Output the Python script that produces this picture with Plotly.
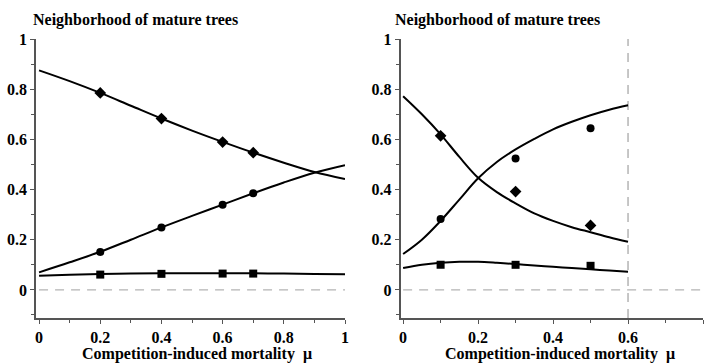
import plotly.graph_objects as go

# ---------- data ----------
# Left panel
left_pts_x = [0.2, 0.4, 0.6, 0.7]
left_diamond = [0.785, 0.683, 0.589, 0.547]
left_circle = [0.151, 0.249, 0.339, 0.385]
left_square = [0.061, 0.064, 0.065, 0.065]

left_curve_x = [0.0, 0.1, 0.2, 0.3, 0.4, 0.5, 0.6, 0.7, 0.8, 0.9, 1.0]
left_curve_diamond = [0.875, 0.832, 0.785, 0.734, 0.683, 0.635, 0.590, 0.547, 0.507, 0.470, 0.442]
left_curve_circle = [0.070, 0.110, 0.152, 0.200, 0.249, 0.295, 0.340, 0.385, 0.428, 0.467, 0.497]
left_curve_square = [0.056, 0.060, 0.063, 0.065, 0.066, 0.066, 0.066, 0.066, 0.065, 0.063, 0.062]

# Right panel
right_pts_x = [0.1, 0.3, 0.5]
right_diamond = [0.614, 0.392, 0.257]
right_circle = [0.283, 0.524, 0.644]
right_square = [0.100, 0.100, 0.096]

right_curve_x = [0.0, 0.05, 0.1, 0.15, 0.2, 0.25, 0.3, 0.35, 0.4, 0.45, 0.5, 0.55, 0.6]
right_curve_diamond = [0.772, 0.700, 0.620, 0.530, 0.447, 0.390, 0.345, 0.305, 0.275, 0.250, 0.230, 0.210, 0.192]
right_curve_circle = [0.143, 0.200, 0.275, 0.360, 0.445, 0.510, 0.560, 0.602, 0.640, 0.670, 0.696, 0.718, 0.736]
right_curve_square = [0.087, 0.100, 0.108, 0.112, 0.112, 0.108, 0.103, 0.097, 0.092, 0.087, 0.082, 0.077, 0.072]

x_tick_vals_left = [0, 0.2, 0.4, 0.6, 0.8, 1]
x_tick_text_left = ["0", "0.2", "0.4", "0.6", "0.8", "1"]
x_tick_vals_right = [0, 0.2, 0.4, 0.6, 0.8]
x_tick_text_right = ["0", "0.2", "0.4", "0.6", "0.8"]
y_tick_vals = [0, 0.2, 0.4, 0.6, 0.8, 1]
y_tick_text = ["0", "0.2", "0.4", "0.6", "0.8", "1"]

panel_title = "Neighborhood of mature trees"
x_title = "Competition-induced mortality  μ"

# ---------- figure ----------
FONT = "Liberation Serif, Times New Roman, serif"
LINE = dict(color="black", width=2, shape="spline", smoothing=1.0)
AXC = "#555555"
GRID = "#b4b4b4"

fig = go.Figure()

def add_panel(xa, ya, cx, cd, cc, cs, px, pd, pc, ps):
    for cy in (cd, cc, cs):
        fig.add_trace(go.Scatter(x=cx, y=cy, mode="lines", line=LINE,
                                 xaxis=xa, yaxis=ya, showlegend=False, hoverinfo="skip"))
    fig.add_trace(go.Scatter(x=px, y=pd, mode="markers",
                             marker=dict(symbol="diamond", size=9, color="black"),
                             xaxis=xa, yaxis=ya, showlegend=False))
    fig.add_trace(go.Scatter(x=px, y=pc, mode="markers",
                             marker=dict(symbol="circle", size=8, color="black"),
                             xaxis=xa, yaxis=ya, showlegend=False))
    fig.add_trace(go.Scatter(x=px, y=ps, mode="markers",
                             marker=dict(symbol="square", size=8, color="black"),
                             xaxis=xa, yaxis=ya, showlegend=False))

add_panel("x", "y", left_curve_x, left_curve_diamond, left_curve_circle, left_curve_square,
          left_pts_x, left_diamond, left_circle, left_square)
add_panel("x2", "y2", right_curve_x, right_curve_diamond, right_curve_circle, right_curve_square,
          right_pts_x, right_diamond, right_circle, right_square)

W, H = 712, 364
ybot, ytop = 318, 39
ydom = [1 - ybot / H, 1 - ytop / H]

tickfont = dict(family=FONT, size=16, color="black", weight="bold")

def bold(lst):
    return ["<b>%s</b>" % t for t in lst]

def xaxis_cfg(domain, rng, vals, text):
    return dict(domain=domain, range=rng, tickmode="array", tickvals=vals, ticktext=bold(text),
                showgrid=False, zeroline=False, showline=True, linecolor=AXC, linewidth=1.5,
                ticks="outside", ticklen=4, tickwidth=1.2, tickcolor=AXC, automargin=False,
                minor=dict(dtick=0.1, tick0=0, ticks="outside", ticklen=3, tickcolor=AXC, tickwidth=1.2),
                tickfont=tickfont, fixedrange=True)

def yaxis_cfg(anchor):
    return dict(domain=ydom, range=[-0.112, 1.0], anchor=anchor, tickmode="array",
                tickvals=y_tick_vals, ticktext=bold(y_tick_text), automargin=False,
                showgrid=False, zeroline=False, showline=True, linecolor=AXC, linewidth=1.5,
                ticks="outside", ticklen=4, tickwidth=1.2, tickcolor=AXC,
                minor=dict(dtick=0.1, tick0=0, ticks="outside", ticklen=3, tickcolor=AXC, tickwidth=1.2),
                tickfont=tickfont, fixedrange=True)

fig.update_layout(
    width=W, height=H,
    margin=dict(l=0, r=0, t=0, b=0, autoexpand=False),
    paper_bgcolor="white", plot_bgcolor="white",
    xaxis=dict(**xaxis_cfg([36 / W, 345 / W], [-0.01, 1.0], x_tick_vals_left, x_tick_text_left), anchor="y"),
    yaxis=yaxis_cfg("x"),
    xaxis2=dict(**xaxis_cfg([400.5 / W, 703 / W], [-0.007, 0.8], x_tick_vals_right, x_tick_text_right), anchor="y2"),
    yaxis2=yaxis_cfg("x2"),
)

dash = "9px,7px"
fig.add_shape(type="line", xref="x", yref="y", x0=0, x1=1, y0=0, y1=0,
              line=dict(color=GRID, width=1.3, dash=dash), layer="below")
fig.add_shape(type="line", xref="x2", yref="y2", x0=0, x1=0.8, y0=0, y1=0,
              line=dict(color=GRID, width=1.3, dash=dash), layer="below")
fig.add_shape(type="line", xref="x2", yref="y2", x0=0.6, x1=0.6, y0=-0.112, y1=1.0,
              line=dict(color=GRID, width=1.5, dash=dash), layer="below")

titlefont = dict(family=FONT, size=16, color="black", weight="bold")
for xp in (31, 393):
    fig.add_annotation(text="<b>%s</b>" % panel_title, xref="paper", yref="paper", x=xp / W, y=1 - 20 / H,
                       xanchor="left", yanchor="middle", showarrow=False, font=titlefont)

axfont = dict(family=FONT, size=16, color="black", weight="bold")
for xc in (197, 560):
    fig.add_annotation(text="<b>%s</b>" % x_title, xref="paper", yref="paper", x=xc / W, y=0,
                       xanchor="center", yanchor="bottom", yshift=-1, showarrow=False, font=axfont)

fig.write_html("out.html")
